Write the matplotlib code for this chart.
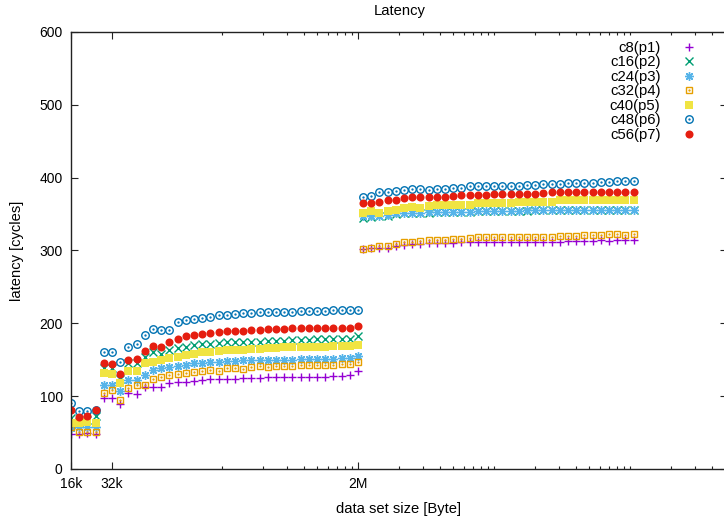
import numpy as np
import matplotlib
matplotlib.use("Agg")
import matplotlib.pyplot as plt
from matplotlib.ticker import FixedLocator, FixedFormatter, NullFormatter

plt.rcParams['font.family'] = ['Liberation Sans', 'DejaVu Sans']
plt.rcParams['font.size'] = 10

# data set sizes [Byte], first sweep up to 2M, second sweep above
size_a = [16384, 18820, 21619, 24834, 28526, 32768, 37641, 43238, 49667, 57052,
          65536, 75281, 86475, 99334, 114105, 131072, 150562, 172951, 198668, 228209,
          262144, 301124, 345901, 397336, 456419, 524288, 602249, 691802, 794672, 912838,
          1048576, 1204498, 1383604, 1589344, 1825676, 2097152]
size_b = [2279000, 2617900, 3007100, 3454200, 3968000, 4558000, 5235800, 6014200,
          6908400, 7935900, 9116000, 10471600, 12028400, 13816800, 15871800, 18232000,
          20943200, 24056800, 27633600, 31743600, 36464000, 41886400, 48113600, 55267200,
          63487200, 72928000, 83772800, 96227200, 110534400, 126974400, 145856000,
          167545600, 192454400, 221068800]

# latency [cycles]
c8_a = [48, 48, 49, 48, 98, 98, 89, 104, 103, 113, 113, 113, 118,
        119, 120, 121, 122, 123, 123, 124, 124, 125, 125, 125, 126, 126, 126, 126,
        127, 127, 127, 127, 128, 128, 129, 135]
c8_b = [302, 303, 304, 304, 306, 308, 309, 309, 310, 310, 310, 310, 311, 311, 311, 311,
        311, 311, 311, 312, 312, 312, 311, 312, 312, 313, 313, 313, 313, 314, 313, 314,
        314, 314]
c16_a = [70, 65, 67, 73, 138, 138, 123, 145, 146, 154, 161, 158, 163,
         166, 168, 170, 172, 172, 173, 174, 174, 175, 175, 175, 176, 176, 176, 177,
         177, 177, 178, 178, 178, 179, 179, 182]
c16_b = [344, 346, 347, 348, 350, 351, 352, 352, 352, 353, 353, 353, 353, 353, 354, 354,
         354, 354, 354, 354, 354, 355, 355, 355, 355, 355, 355, 355, 355, 356, 356, 356,
         356, 356]
c24_a = [56, 58, 58, 57, 116, 115, 107, 122, 122, 129, 136, 138, 140,
         141, 143, 145, 146, 147, 147, 148, 148, 149, 149, 149, 150, 150, 150, 150,
         151, 151, 151, 151, 151, 152, 152, 155]
c24_b = [347, 348, 348, 349, 351, 352, 352, 352, 353, 353, 353, 353, 353, 353, 354, 354,
         354, 354, 354, 354, 355, 355, 355, 355, 355, 355, 355, 356, 356, 356, 356, 356,
         356, 356]
c32_a = [58, 51, 51, 51, 104, 109, 95, 111, 115, 116, 124, 126, 129,
         130, 132, 133, 134, 136, 135, 138, 139, 137, 140, 141, 140, 141, 142, 142,
         143, 143, 143, 143, 143, 144, 144, 147]
c32_b = [302, 304, 306, 306, 309, 311, 312, 313, 315, 314, 315, 316, 316, 317, 318, 318,
         318, 318, 319, 319, 319, 319, 318, 319, 320, 320, 320, 321, 321, 321, 322, 322,
         321, 322]
c40_a = [63, 63, 64, 63, 132, 131, 118, 135, 135, 145, 147, 149, 152,
         154, 156, 158, 160, 161, 162, 163, 164, 164, 165, 165, 166, 166, 167, 167,
         167, 168, 168, 168, 169, 169, 169, 170]
c40_b = [351, 354, 352, 354, 356, 359, 360, 359, 361, 362, 362, 363, 362, 362, 365, 365,
         365, 365, 365, 366, 366, 366, 366, 366, 369, 369, 369, 369, 369, 369, 369, 369,
         370, 370]
c48_a = [90, 80, 80, 81, 161, 161, 147, 168, 172, 184, 192, 191, 191,
         202, 205, 206, 208, 209, 211, 212, 213, 214, 214, 215, 215, 216, 216, 216,
         217, 217, 217, 217, 218, 218, 218, 218]
c48_b = [374, 375, 380, 381, 382, 383, 384, 385, 383, 385, 385, 386, 386, 388, 388, 388,
         389, 388, 389, 389, 390, 390, 391, 391, 391, 392, 392, 393, 393, 394, 394, 395,
         395, 395]
c56_a = [81, 71, 73, 81, 145, 144, 130, 150, 151, 162, 169, 168, 175,
         178, 182, 184, 186, 187, 188, 189, 190, 190, 191, 191, 192, 192, 192, 193,
         193, 193, 193, 193, 193, 194, 194, 196]
c56_b = [365, 365, 367, 369, 369, 372, 373, 373, 373, 374, 374, 375, 376, 376, 376, 376,
         377, 377, 377, 378, 378, 378, 379, 381, 380, 380, 380, 380, 380, 381, 381, 381,
         381, 381]

labels = ['c8(p1)', 'c16(p2)', 'c24(p3)', 'c32(p4)', 'c40(p5)', 'c48(p6)', 'c56(p7)']

series = [c8_a + c8_b, c16_a + c16_b, c24_a + c24_b, c32_a + c32_b,
          c40_a + c40_b, c48_a + c48_b, c56_a + c56_b]
sizes = size_a + size_b

colors = ['#9400d3', '#009e73', '#56b4e9', '#e69f00', '#f0e442', '#0072b2', '#e51e10']
# marker, size, filled, centre dot
styles = [('+', 5.8, True, False),
          ('x', 5.2, True, False),
          ((8, 2, 0), 6.2, True, False),
          ('s', 5.0, False, True),
          ('s', 5.4, True, False),
          ('o', 5.4, False, True),
          ('o', 5.8, True, False)]

fig = plt.figure(figsize=(7.24, 5.18), dpi=100)
ax = fig.add_axes([71 / 724, 1 - 469 / 518, 656 / 724, 437 / 518])

handles = []
for ys, lab, col, (mk, ms, filled, dot) in zip(series, labels, colors, styles):
    if filled:
        solid = mk in ('s', 'o')
        h, = ax.plot(sizes, ys, linestyle='none', marker=mk, ms=ms, color=col,
                     mew=0 if solid else 1.0, label=lab)
    else:
        h, = ax.plot(sizes, ys, linestyle='none', marker=mk, ms=ms, mfc='none',
                     mec=col, mew=1.0, label=lab)
    if dot:
        d, = ax.plot(sizes, ys, linestyle='none', marker='.', ms=1.3, color=col)
        h = (h, d)
    handles.append(h)

ax.set_xscale('log')
ax.set_xlim(16384, 2 ** 30)
ax.set_ylim(0, 600)

ax.xaxis.set_major_locator(FixedLocator([16384, 32768, 2097152]))
ax.xaxis.set_major_formatter(FixedFormatter(['16k', '32k', '2M']))
minors = [m * 2097152 * 10.0 ** k for k in range(-1, 3) for m in range(1, 10)]
minors = [v for v in minors if 16384 < v < 2 ** 30 and v != 2097152]
ax.xaxis.set_minor_locator(FixedLocator(minors))
ax.xaxis.set_minor_formatter(NullFormatter())
ax.set_yticks(range(0, 601, 100))
ax.yaxis.set_minor_locator(FixedLocator([]))

ax.tick_params(which='both', direction='in', top=True, right=True, width=0.8,
               color='#222222', labelsize=10)
ax.tick_params(which='major', length=5, pad=6)
ax.tick_params(which='minor', length=2.5)
for sp in ax.spines.values():
    sp.set_linewidth(1.0)
    sp.set_color('#222222')

ax.set_xlabel('data set size [Byte]', fontsize=10.6, labelpad=8)
ax.set_ylabel('latency [cycles]', fontsize=10.6, labelpad=11)
fig.text(399.5 / 724, 1 - 14.5 / 518, 'Latency', ha='center', va='baseline',
         fontsize=10.6)

leg = ax.legend(handles, labels, loc='upper right', bbox_to_anchor=(0.954, 0.980),
                frameon=False, markerfirst=False, handlelength=1.0,
                handletextpad=1.45, labelspacing=0.035, borderpad=0,
                borderaxespad=0, fontsize=10.7)

fig.savefig('out.png', dpi=100)
